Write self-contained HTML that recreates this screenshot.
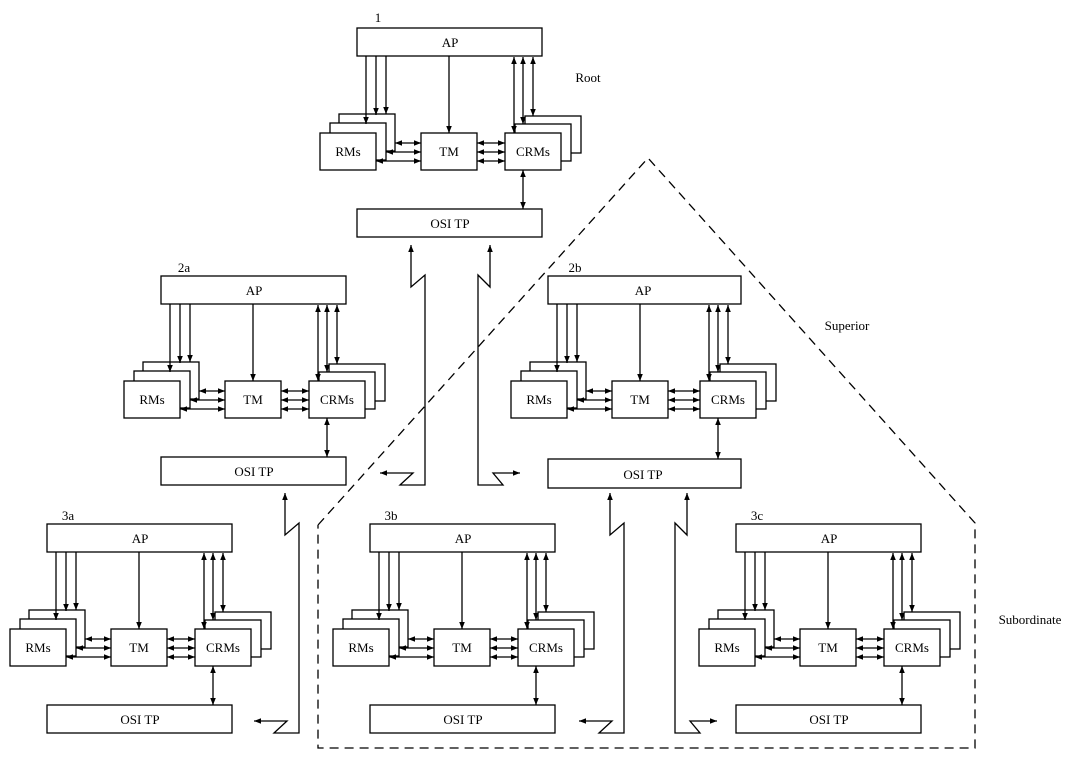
<!DOCTYPE html>
<html><head><meta charset="utf-8"><style>
html,body{margin:0;padding:0;background:#fff;}
svg{display:block;font-family:"Liberation Serif",serif;font-size:13px;}
rect{fill:#fff;stroke:#000;stroke-width:1.3;}
line,polyline{stroke:#000;stroke-width:1.3;fill:none;}
.a{marker-end:url(#ah);}
.d{marker-end:url(#ah);marker-start:url(#ah);}
text{text-anchor:middle;}
</style></head><body>
<svg width="1080" height="767" viewBox="0 0 1080 767" xmlns="http://www.w3.org/2000/svg">
<defs>
<marker id="ah" viewBox="0 0 10 10" refX="10" refY="5" markerWidth="7" markerHeight="7" markerUnits="userSpaceOnUse" orient="auto-start-reverse"><path d="M0,1 L10,5 L0,9 z" fill="#000"/></marker>
</defs>

<polyline points="318,525 648,158 975,523 975,748 318,748 318,525" style="stroke-dasharray:9,6;stroke-width:1.3"/>

<text x="588" y="82">Root</text>
<text x="847" y="330">Superior</text>
<text x="1030" y="624">Subordinate</text>

<g transform="translate(0,0)">
<text x="378" y="22">1</text>
<rect x="357" y="28" width="185" height="28"/><text x="450" y="47">AP</text>
<rect x="339" y="114" width="56" height="37"/><rect x="330" y="123" width="56" height="37"/><rect x="320" y="133" width="56" height="37"/><text x="348" y="156">RMs</text>
<line class="a" x1="366" y1="56" x2="366" y2="124"/><line class="a" x1="376" y1="56" x2="376" y2="115"/><line class="a" x1="386" y1="56" x2="386" y2="114"/>
<rect x="421" y="133" width="56" height="37"/><text x="449" y="156">TM</text>
<line class="a" x1="449" y1="56" x2="449" y2="133"/>
<rect x="525" y="116" width="56" height="37"/><rect x="515" y="124" width="56" height="37"/><rect x="505" y="133" width="56" height="37"/><text x="533" y="156">CRMs</text>
<line class="d" x1="514" y1="57" x2="514" y2="133"/><line class="d" x1="523" y1="57" x2="523" y2="124"/><line class="d" x1="533" y1="57" x2="533" y2="116"/>
<line class="d" x1="395" y1="143" x2="421" y2="143"/><line class="d" x1="386" y1="152" x2="421" y2="152"/><line class="d" x1="376" y1="161" x2="421" y2="161"/>
<line class="d" x1="477" y1="143" x2="505" y2="143"/><line class="d" x1="477" y1="152" x2="505" y2="152"/><line class="d" x1="477" y1="161" x2="505" y2="161"/>
<line class="d" x1="523" y1="170" x2="523" y2="209"/>
<rect x="357" y="209" width="185" height="28"/><text x="450" y="228">OSI TP</text>
</g>

<g transform="translate(-196,248)">
<text x="380" y="24">2a</text>
<rect x="357" y="28" width="185" height="28"/><text x="450" y="47">AP</text>
<rect x="339" y="114" width="56" height="37"/><rect x="330" y="123" width="56" height="37"/><rect x="320" y="133" width="56" height="37"/><text x="348" y="156">RMs</text>
<line class="a" x1="366" y1="56" x2="366" y2="124"/><line class="a" x1="376" y1="56" x2="376" y2="115"/><line class="a" x1="386" y1="56" x2="386" y2="114"/>
<rect x="421" y="133" width="56" height="37"/><text x="449" y="156">TM</text>
<line class="a" x1="449" y1="56" x2="449" y2="133"/>
<rect x="525" y="116" width="56" height="37"/><rect x="515" y="124" width="56" height="37"/><rect x="505" y="133" width="56" height="37"/><text x="533" y="156">CRMs</text>
<line class="d" x1="514" y1="57" x2="514" y2="133"/><line class="d" x1="523" y1="57" x2="523" y2="124"/><line class="d" x1="533" y1="57" x2="533" y2="116"/>
<line class="d" x1="395" y1="143" x2="421" y2="143"/><line class="d" x1="386" y1="152" x2="421" y2="152"/><line class="d" x1="376" y1="161" x2="421" y2="161"/>
<line class="d" x1="477" y1="143" x2="505" y2="143"/><line class="d" x1="477" y1="152" x2="505" y2="152"/><line class="d" x1="477" y1="161" x2="505" y2="161"/>
<line class="d" x1="523" y1="170" x2="523" y2="209"/>
<rect x="357" y="209" width="185" height="28"/><text x="450" y="228">OSI TP</text>
</g>

<g transform="translate(191,248)">
<text x="384" y="24">2b</text>
<rect x="357" y="28" width="193" height="28"/><text x="452" y="47">AP</text>
<rect x="339" y="114" width="56" height="37"/><rect x="330" y="123" width="56" height="37"/><rect x="320" y="133" width="56" height="37"/><text x="348" y="156">RMs</text>
<line class="a" x1="366" y1="56" x2="366" y2="124"/><line class="a" x1="376" y1="56" x2="376" y2="115"/><line class="a" x1="386" y1="56" x2="386" y2="114"/>
<rect x="421" y="133" width="56" height="37"/><text x="449" y="156">TM</text>
<line class="a" x1="449" y1="56" x2="449" y2="133"/>
<rect x="529" y="116" width="56" height="37"/><rect x="519" y="124" width="56" height="37"/><rect x="509" y="133" width="56" height="37"/><text x="537" y="156">CRMs</text>
<line class="d" x1="518" y1="57" x2="518" y2="133"/><line class="d" x1="527" y1="57" x2="527" y2="124"/><line class="d" x1="537" y1="57" x2="537" y2="116"/>
<line class="d" x1="395" y1="143" x2="421" y2="143"/><line class="d" x1="386" y1="152" x2="421" y2="152"/><line class="d" x1="376" y1="161" x2="421" y2="161"/>
<line class="d" x1="477" y1="143" x2="509" y2="143"/><line class="d" x1="477" y1="152" x2="509" y2="152"/><line class="d" x1="477" y1="161" x2="509" y2="161"/>
<line class="d" x1="527" y1="170" x2="527" y2="211"/>
<rect x="357" y="211" width="193" height="29"/><text x="452" y="231">OSI TP</text>
</g>

<g transform="translate(-310,496)">
<text x="378" y="24">3a</text>
<rect x="357" y="28" width="185" height="28"/><text x="450" y="47">AP</text>
<rect x="339" y="114" width="56" height="37"/><rect x="330" y="123" width="56" height="37"/><rect x="320" y="133" width="56" height="37"/><text x="348" y="156">RMs</text>
<line class="a" x1="366" y1="56" x2="366" y2="124"/><line class="a" x1="376" y1="56" x2="376" y2="115"/><line class="a" x1="386" y1="56" x2="386" y2="114"/>
<rect x="421" y="133" width="56" height="37"/><text x="449" y="156">TM</text>
<line class="a" x1="449" y1="56" x2="449" y2="133"/>
<rect x="525" y="116" width="56" height="37"/><rect x="515" y="124" width="56" height="37"/><rect x="505" y="133" width="56" height="37"/><text x="533" y="156">CRMs</text>
<line class="d" x1="514" y1="57" x2="514" y2="133"/><line class="d" x1="523" y1="57" x2="523" y2="124"/><line class="d" x1="533" y1="57" x2="533" y2="116"/>
<line class="d" x1="395" y1="143" x2="421" y2="143"/><line class="d" x1="386" y1="152" x2="421" y2="152"/><line class="d" x1="376" y1="161" x2="421" y2="161"/>
<line class="d" x1="477" y1="143" x2="505" y2="143"/><line class="d" x1="477" y1="152" x2="505" y2="152"/><line class="d" x1="477" y1="161" x2="505" y2="161"/>
<line class="d" x1="523" y1="170" x2="523" y2="209"/>
<rect x="357" y="209" width="185" height="28"/><text x="450" y="228">OSI TP</text>
</g>

<g transform="translate(13,496)">
<text x="378" y="24">3b</text>
<rect x="357" y="28" width="185" height="28"/><text x="450" y="47">AP</text>
<rect x="339" y="114" width="56" height="37"/><rect x="330" y="123" width="56" height="37"/><rect x="320" y="133" width="56" height="37"/><text x="348" y="156">RMs</text>
<line class="a" x1="366" y1="56" x2="366" y2="124"/><line class="a" x1="376" y1="56" x2="376" y2="115"/><line class="a" x1="386" y1="56" x2="386" y2="114"/>
<rect x="421" y="133" width="56" height="37"/><text x="449" y="156">TM</text>
<line class="a" x1="449" y1="56" x2="449" y2="133"/>
<rect x="525" y="116" width="56" height="37"/><rect x="515" y="124" width="56" height="37"/><rect x="505" y="133" width="56" height="37"/><text x="533" y="156">CRMs</text>
<line class="d" x1="514" y1="57" x2="514" y2="133"/><line class="d" x1="523" y1="57" x2="523" y2="124"/><line class="d" x1="533" y1="57" x2="533" y2="116"/>
<line class="d" x1="395" y1="143" x2="421" y2="143"/><line class="d" x1="386" y1="152" x2="421" y2="152"/><line class="d" x1="376" y1="161" x2="421" y2="161"/>
<line class="d" x1="477" y1="143" x2="505" y2="143"/><line class="d" x1="477" y1="152" x2="505" y2="152"/><line class="d" x1="477" y1="161" x2="505" y2="161"/>
<line class="d" x1="523" y1="170" x2="523" y2="209"/>
<rect x="357" y="209" width="185" height="28"/><text x="450" y="228">OSI TP</text>
</g>

<g transform="translate(379,496)">
<text x="378" y="24">3c</text>
<rect x="357" y="28" width="185" height="28"/><text x="450" y="47">AP</text>
<rect x="339" y="114" width="56" height="37"/><rect x="330" y="123" width="56" height="37"/><rect x="320" y="133" width="56" height="37"/><text x="348" y="156">RMs</text>
<line class="a" x1="366" y1="56" x2="366" y2="124"/><line class="a" x1="376" y1="56" x2="376" y2="115"/><line class="a" x1="386" y1="56" x2="386" y2="114"/>
<rect x="421" y="133" width="56" height="37"/><text x="449" y="156">TM</text>
<line class="a" x1="449" y1="56" x2="449" y2="133"/>
<rect x="525" y="116" width="56" height="37"/><rect x="515" y="124" width="56" height="37"/><rect x="505" y="133" width="56" height="37"/><text x="533" y="156">CRMs</text>
<line class="d" x1="514" y1="57" x2="514" y2="133"/><line class="d" x1="523" y1="57" x2="523" y2="124"/><line class="d" x1="533" y1="57" x2="533" y2="116"/>
<line class="d" x1="395" y1="143" x2="421" y2="143"/><line class="d" x1="386" y1="152" x2="421" y2="152"/><line class="d" x1="376" y1="161" x2="421" y2="161"/>
<line class="d" x1="477" y1="143" x2="505" y2="143"/><line class="d" x1="477" y1="152" x2="505" y2="152"/><line class="d" x1="477" y1="161" x2="505" y2="161"/>
<line class="d" x1="523" y1="170" x2="523" y2="209"/>
<rect x="357" y="209" width="185" height="28"/><text x="450" y="228">OSI TP</text>
</g>

<polyline class="d" points="411,245 411,287 425,275 425,485 400,485 413,473 380,473"/>
<polyline class="d" points="490,245 490,287 478,275 478,485 503,485 493,473 520,473"/>
<g transform="translate(-126,248)"><polyline class="d" points="411,245 411,287 425,275 425,485 400,485 413,473 380,473"/></g>
<g transform="translate(199,248)"><polyline class="d" points="411,245 411,287 425,275 425,485 400,485 413,473 380,473"/></g>
<g transform="translate(197,248)"><polyline class="d" points="490,245 490,287 478,275 478,485 503,485 493,473 520,473"/></g>
</svg>
</body></html>
